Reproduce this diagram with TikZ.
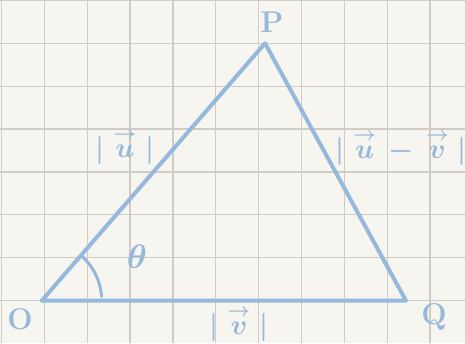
\RequirePackage{fix-cm}
\documentclass[tikz,border=0pt]{standalone}
\usepackage{amsmath,amssymb}
\usepackage{tikz}
\usetikzlibrary{calc}

\definecolor{paper}{RGB}{247,245,240}
\definecolor{gridgray}{RGB}{208,203,196}
\definecolor{inkblue}{RGB}{150,184,219}

\newcommand{\arrowvec}[1]{\overset{\rightarrow}{#1}}

\tikzset{
  gridline/.style={gridgray, line width=1.2pt},
  side/.style={inkblue, line width=4pt, line join=round, line cap=round},
  lab/.style={inkblue, font=\fontsize{28}{32}\selectfont\bfseries\boldmath, inner sep=0pt}
}

\begin{document}
\begin{tikzpicture}[x=1pt,y=1pt]
        \fill[paper] (0,0) rectangle (465,343);
        \useasboundingbox (0,0) rectangle (465,343);
        \foreach \i in {0,...,10}
          \draw[gridline] ({1.5+42.85*\i},0) -- ++(0,343);
        \foreach \j in {1,...,8}
          \draw[gridline] (0,{-0.3+42.85*\j}) -- ++(465,0);
        \coordinate (O) at (41.7,42.3);
        \coordinate (P) at (265,299.7);
        \coordinate (Q) at (406,42.3);
        \draw[side] (O) -- (P) -- (Q) -- cycle;
        \draw[side, line width=3pt] ($(O)+(49:60)$) arc (49:4:60);
        \node[lab, font=\fontsize{30}{34}\selectfont\bfseries] (labP) at (272,321) {P};
        \node[lab, font=\fontsize{30}{34}\selectfont\bfseries] (labO) at (20,24) {O};
        \node[lab, font=\fontsize{30}{34}\selectfont\bfseries] (labQ) at (434,26) {Q};
        \node[lab, font=\fontsize{34}{38}\selectfont\boldmath] (theta) at (137,86) {$\theta$};
        \node[lab] (u) at (125,196) {$|\;\arrowvec{u}\;|$};
        \node[lab] (uv) at (401,195) {$|\;\arrowvec{u}\,-\,\arrowvec{v}\;|$};
        \node[lab] (v) at (239,19) {$|\;\arrowvec{v}\;|$};
\end{tikzpicture}
\end{document}
